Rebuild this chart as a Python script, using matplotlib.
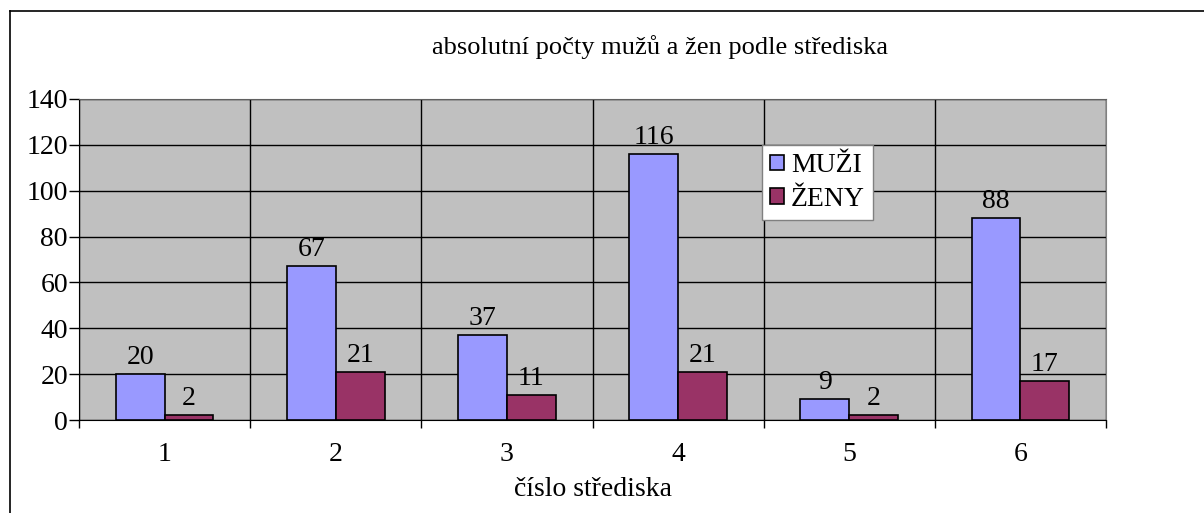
import numpy as np
import matplotlib.pyplot as plt
from matplotlib.lines import Line2D

categories = ['1', '2', '3', '4', '5', '6']
muzi = [20, 67, 37, 116, 9, 88]
zeny = [2, 21, 11, 21, 2, 17]

plt.rcParams['font.family'] = ['Liberation Serif', 'DejaVu Serif']

fig = plt.figure(figsize=(12.04, 5.13), dpi=100)
ax = fig.add_axes([79 / 1204, 1 - 420 / 513, 1027 / 1204, 321 / 513])
ax.set_facecolor('#C0C0C0')

x = np.arange(len(categories))
w = 0.285
b1 = ax.bar(x - w / 2, muzi, w, color='#9999FF', edgecolor='black', linewidth=1.2, label='MUŽI', zorder=3)
b2 = ax.bar(x + w / 2, zeny, w, color='#993366', edgecolor='black', linewidth=1.2, label='ŽENY', zorder=3)
ax.bar_label(b1, fontsize=20, padding=3)
ax.bar_label(b2, fontsize=20, padding=3)

ax.set_xlim(-0.5, len(categories) - 0.5)
ax.set_ylim(0, 140)
ax.set_yticks(range(0, 141, 20))
ax.set_xticks(x)
ax.set_xticklabels(categories)
ax.set_xticks(np.arange(-0.5, len(categories), 1), minor=True)
ax.tick_params(axis='x', which='major', length=0, labelsize=20, pad=16)
ax.tick_params(axis='x', which='minor', length=6, width=1, direction='out')
ax.tick_params(axis='y', length=7, width=1, direction='out', labelsize=20, pad=1)
ax.grid(axis='y', color='black', linewidth=1, zorder=1)
ax.grid(axis='x', which='minor', color='black', linewidth=1, zorder=1)
ax.set_axisbelow(True)
ax.spines['top'].set_color('#606060')
ax.spines['right'].set_color('#808080')
for s in ('left', 'bottom'):
    ax.spines[s].set_color('black')

ax.set_xlabel('číslo střediska', fontsize=20, labelpad=7)
fig.text(660 / 1204, 1 - 47 / 513, 'absolutní počty mužů a žen podle střediska',
         fontsize=19, ha='center', va='center')

leg = ax.legend(loc='upper left', bbox_to_anchor=((762 - 79) / 1027, (420 - 145) / 321),
                fontsize=20, frameon=True, fancybox=False, framealpha=1,
                handlelength=0.5, handleheight=0.5,
                handletextpad=0.25, borderpad=0.3, labelspacing=0.3, borderaxespad=0)
leg.get_frame().set_edgecolor('#808080')
leg.get_frame().set_linewidth(1)

fig.add_artist(Line2D([10 / 1204, 10 / 1204], [0, 1 - 11 / 513], color='black', lw=1.2, transform=fig.transFigure))
fig.add_artist(Line2D([10 / 1204, 1], [1 - 11 / 513, 1 - 11 / 513], color='black', lw=1.2, transform=fig.transFigure))

fig.savefig('out.png', dpi=100)
